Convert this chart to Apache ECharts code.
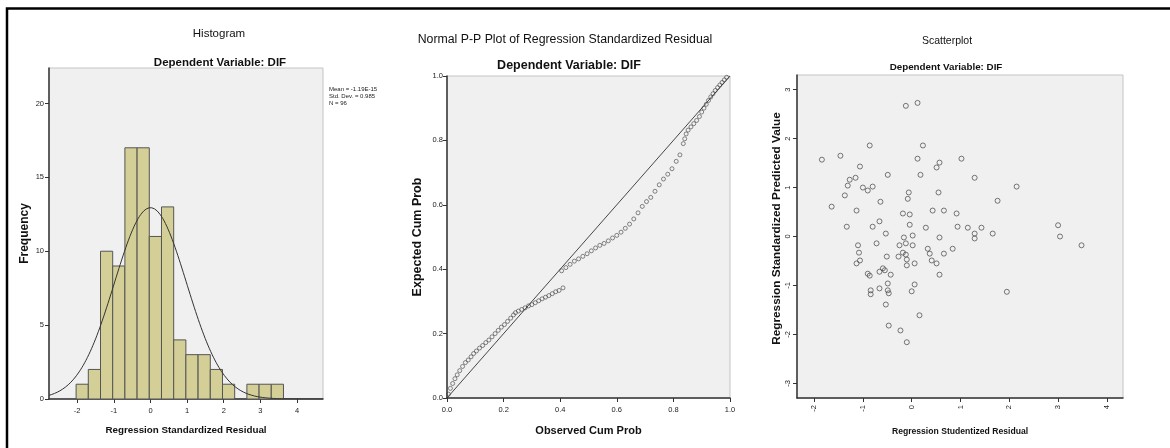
<!DOCTYPE html>
<html>
<head>
<meta charset="utf-8">
<script src="https://cdn.jsdelivr.net/npm/echarts@6/dist/echarts.min.js"></script>
<style>
html,body{margin:0;padding:0;background:#fff;}
#c{width:1170px;height:448px;}
</style>
</head>
<body>
<div id="c"></div>
<script>
// ---------- Histogram data ----------
const histBinStart = -2.03;
const histBinWidth = 0.333;
const histCounts = [1, 2, 10, 9, 17, 17, 11, 13, 4, 3, 3, 2, 1, 0, 1, 1, 1];
const histMean = 0;
const histSd = 0.985;
const histN = 96;
const histXTicks = [-2, -1, 0, 1, 2, 3, 4];
const histYTicks = [0, 5, 10, 15, 20];
const histLegend = ['Mean = -1.19E-15', 'Std. Dev. = 0.985', 'N = 96'];

// ---------- P-P plot data ----------
const ppObserved = [
  0.005,0.012,0.020,0.028,0.036,0.045,0.055,0.065,0.075,0.085,0.094,
  0.104,0.115,0.126,0.137,0.148,0.159,0.170,0.181,0.192,0.203,0.214,0.225,0.235,0.242,
  0.252,0.264,0.276,0.288,0.300,0.312,0.324,0.336,0.348,0.360,0.372,0.384,0.396,0.410,
  0.405,0.420,0.435,0.450,0.465,0.480,0.495,0.510,0.525,0.540,0.555,0.570,0.585,0.600,
  0.615,0.630,0.645,0.660,0.675,0.690,0.705,0.720,0.735,0.750,0.765,0.780,0.795,0.810,0.823,
  0.835,0.840,0.845,0.852,0.862,0.872,0.882,0.892,0.900,0.908,0.916,0.924,0.932,0.940,
  0.948,0.956,0.964,0.972,0.980,0.988
];
const ppExpected = [
  0.012,0.030,0.045,0.060,0.072,0.085,0.098,0.110,0.118,0.128,0.138,
  0.146,0.155,0.163,0.172,0.180,0.190,0.200,0.210,0.220,0.228,0.238,0.248,0.258,0.265,
  0.270,0.275,0.280,0.286,0.290,0.296,0.302,0.308,0.313,0.318,0.324,0.330,0.334,0.342,
  0.395,0.405,0.415,0.425,0.432,0.440,0.448,0.457,0.466,0.474,0.480,0.488,0.497,0.505,
  0.515,0.527,0.540,0.556,0.575,0.595,0.610,0.623,0.642,0.662,0.680,0.695,0.712,0.735,0.755,
  0.790,0.805,0.820,0.832,0.842,0.852,0.862,0.874,0.888,0.900,0.912,0.924,0.935,0.945,
  0.955,0.964,0.972,0.980,0.988,0.996
];
const ppTicks = [0, 0.2, 0.4, 0.6, 0.8, 1.0];

// ---------- Scatterplot data ----------
const scResidual = [
  -0.12,0.12,-0.86,0.23,-1.84,-1.46,0.12,0.57,0.51,1.02,-1.06,-0.49,0.18,1.29,-1.27,-1.15,
  -1.31,-1.37,-1.00,-0.90,-0.80,-0.64,-0.06,-0.08,0.55,1.76,-1.64,-1.13,-0.18,-0.04,0.43,0.66,
  0.92,-0.66,-0.04,-1.33,-0.80,0.29,0.94,1.15,1.43,1.29,1.66,1.29,-0.53,0.02,-0.16,0.57,
  -1.10,-1.08,-0.72,-0.25,-0.12,0.02,0.33,0.84,0.66,0.37,-0.18,-0.12,-0.27,-0.51,-0.10,0.06,
  0.41,0.51,-1.06,-1.13,-0.10,-0.59,-0.66,-0.55,-0.43,-0.90,-0.86,0.57,-0.49,-0.66,-0.84,-0.84,
  -0.49,-0.47,0.06,0.00,-0.53,0.16,-0.47,-0.23,-0.10,3.00,3.04,3.48,1.95,2.15
];
const scPredicted = [
  2.67,2.73,1.86,1.86,1.57,1.65,1.59,1.51,1.41,1.59,1.43,1.26,1.26,1.20,1.16,1.20,
  1.04,0.84,1.00,0.94,1.02,0.71,0.90,0.77,0.90,0.73,0.61,0.53,0.47,0.45,0.53,0.53,
  0.47,0.31,0.24,0.20,0.20,0.18,0.20,0.18,0.18,0.06,0.06,-0.04,0.06,0.02,-0.02,-0.02,
  -0.18,-0.33,-0.14,-0.18,-0.14,-0.18,-0.25,-0.25,-0.35,-0.35,-0.33,-0.37,-0.41,-0.41,-0.47,-0.55,
  -0.49,-0.55,-0.49,-0.55,-0.59,-0.65,-0.72,-0.69,-0.78,-0.76,-0.80,-0.78,-0.96,-1.06,-1.10,-1.18,
  -1.10,-1.16,-0.98,-1.12,-1.39,-1.61,-1.82,-1.92,-2.16,0.23,0.00,-0.18,-1.13,1.02
];
const scXTicks = [-2, -1, 0, 1, 2, 3, 4];
const scYTicks = [-3, -2, -1, 0, 1, 2, 3];

// ---------- build ----------
const FONT = '"Liberation Sans", Arial, sans-serif';
const histBins = histCounts.map((c, i) => [histBinStart + i * histBinWidth, histBinStart + (i + 1) * histBinWidth, c]);
const hxMin = -2.77, hxMax = 4.71;
const curve = [];
for (let k = 0; k <= 200; k++) {
  const x = hxMin + (hxMax - hxMin) * k / 200;
  const z = (x - histMean) / histSd;
  curve.push([x, histN * histBinWidth / (histSd * Math.sqrt(2 * Math.PI)) * Math.exp(-0.5 * z * z)]);
}
const ppData = ppObserved.map((v, i) => [v, ppExpected[i]]);
const scData = scResidual.map((v, i) => [v, scPredicted[i]]);

const axisLineStyle = {show: true, onZero: false, lineStyle: {color: '#333', width: 1.5}};
const tickLabel = {fontSize: 7.5, color: '#222', fontFamily: FONT};
function nameStyle(size, pad) {
  const s = {fontSize: size, fontWeight: 'bold', color: '#111', fontFamily: FONT};
  if (pad) s.padding = pad;
  return s;
}

function valueAxis(gi, min, max, ticks, extra) {
  return Object.assign({
    type: 'value', gridIndex: gi, min: min, max: max,
    axisLine: axisLineStyle,
    axisTick: {show: true, customValues: ticks, length: 4, lineStyle: {color: '#333'}},
    axisLabel: Object.assign({customValues: ticks}, tickLabel),
    splitLine: {show: false},
    nameLocation: 'middle', nameTextStyle: nameStyle(9)
  }, extra || {});
}

const chart = echarts.init(document.getElementById('c'), null, {renderer: 'canvas'});
const titleBase = {textAlign: 'center', padding: 0, textStyle: {fontFamily: FONT, color: '#111', fontSize: 10.5, fontWeight: 'normal'}};
function T(text, left, top, bold, size) {
  return Object.assign({}, titleBase, {text: text, left: left, top: top,
    textStyle: Object.assign({}, titleBase.textStyle, {fontWeight: bold ? 'bold' : 'normal', fontSize: size || 10.5})});
}
const gridBase = {show: true, backgroundColor: '#f0f0f0', borderColor: '#c4c4c4', borderWidth: 1, containLabel: false};

chart.setOption({
  animation: false,
  backgroundColor: '#fff',
  title: [
    T('Histogram', 219, 27.5, false, 11.5),
    T('Dependent Variable: DIF', 220, 57, true, 11.5),
    T('Normal P-P Plot of Regression Standardized Residual', 565, 34, false, 12.3),
    T('Dependent Variable: DIF', 569, 59.5, true, 12.5),
    T('Scatterplot', 947, 36, false, 10.5),
    T('Dependent Variable: DIF', 946, 62, true, 9.8),
    {text: histLegend.join('\n'), left: 329, top: 86, padding: 0,
     textStyle: {fontSize: 6, lineHeight: 7, fontWeight: 'normal', color: '#222', fontFamily: FONT}}
  ],
  grid: [
    Object.assign({left: 49, top: 68, width: 274, height: 331}, gridBase),
    Object.assign({left: 447, top: 76, width: 283, height: 322}, gridBase),
    Object.assign({left: 797, top: 75, width: 326, height: 323}, gridBase)
  ],
  xAxis: [
    valueAxis(0, hxMin, hxMax, histXTicks, {name: 'Regression Standardized Residual', nameGap: 26,
      nameTextStyle: nameStyle(9.8),
      axisLabel: Object.assign({customValues: histXTicks, margin: 8}, tickLabel)}),
    valueAxis(1, 0, 1, ppTicks, {name: 'Observed Cum Prob', nameGap: 27,
      nameTextStyle: nameStyle(11),
      axisLabel: Object.assign({customValues: ppTicks, margin: 8, formatter: v => v.toFixed(1)}, tickLabel)}),
    valueAxis(2, -2.35, 4.33, scXTicks, {name: 'Regression Studentized Residual', nameGap: 29,
      nameTextStyle: nameStyle(8.6),
      axisLabel: Object.assign({customValues: scXTicks, margin: 7, rotate: 90}, tickLabel)})
  ],
  yAxis: [
    valueAxis(0, 0, 22.4, histYTicks, {name: 'Frequency', nameGap: 18,
      nameTextStyle: nameStyle(12),
      axisLabel: Object.assign({customValues: histYTicks, margin: 5}, tickLabel)}),
    valueAxis(1, 0, 1, ppTicks, {name: 'Expected Cum Prob', nameGap: 23,
      nameTextStyle: nameStyle(12.5),
      axisLabel: Object.assign({customValues: ppTicks, margin: 4, formatter: v => v.toFixed(1)}, tickLabel)}),
    valueAxis(2, -3.3, 3.3, scYTicks, {name: 'Regression Standardized Predicted Value', nameGap: 13,
      nameTextStyle: nameStyle(11.8, [0, 0, 0, 16]),
      axisLabel: Object.assign({customValues: scYTicks, margin: 5, rotate: 90}, tickLabel)})
  ],
  graphic: [
    {type: 'rect', shape: {x: 7, y: 8.5, width: 1200, height: 500}, style: {fill: 'none', stroke: '#000', lineWidth: 2.5}, z: 100}
  ],
  series: [
    {
      type: 'custom', xAxisIndex: 0, yAxisIndex: 0, data: histBins,
      encode: {x: [0, 1], y: 2},
      renderItem: function (params, api) {
        const p0 = api.coord([api.value(0), api.value(2)]);
        const p1 = api.coord([api.value(1), 0]);
        return {type: 'rect', shape: {x: p0[0], y: p0[1], width: p1[0] - p0[0], height: p1[1] - p0[1]},
          style: {fill: '#d4cf97', stroke: '#555', lineWidth: 1}};
      }
    },
    {type: 'line', xAxisIndex: 0, yAxisIndex: 0, data: curve, showSymbol: false, symbol: 'none',
     lineStyle: {color: '#333', width: 1}, z: 5},
    {type: 'line', xAxisIndex: 1, yAxisIndex: 1, data: [[0, 0], [1, 1]], symbol: 'none',
     lineStyle: {color: '#333', width: 0.9}},
    {type: 'scatter', xAxisIndex: 1, yAxisIndex: 1, data: ppData, symbol: 'circle', symbolSize: 4,
     itemStyle: {color: 'rgba(0,0,0,0)', borderColor: '#444', borderWidth: 0.8}},
    {type: 'scatter', xAxisIndex: 2, yAxisIndex: 2, data: scData, symbol: 'circle', symbolSize: 5,
     itemStyle: {color: 'rgba(0,0,0,0)', borderColor: '#444', borderWidth: 0.9}}
  ]
});
</script>
</body>
</html>
